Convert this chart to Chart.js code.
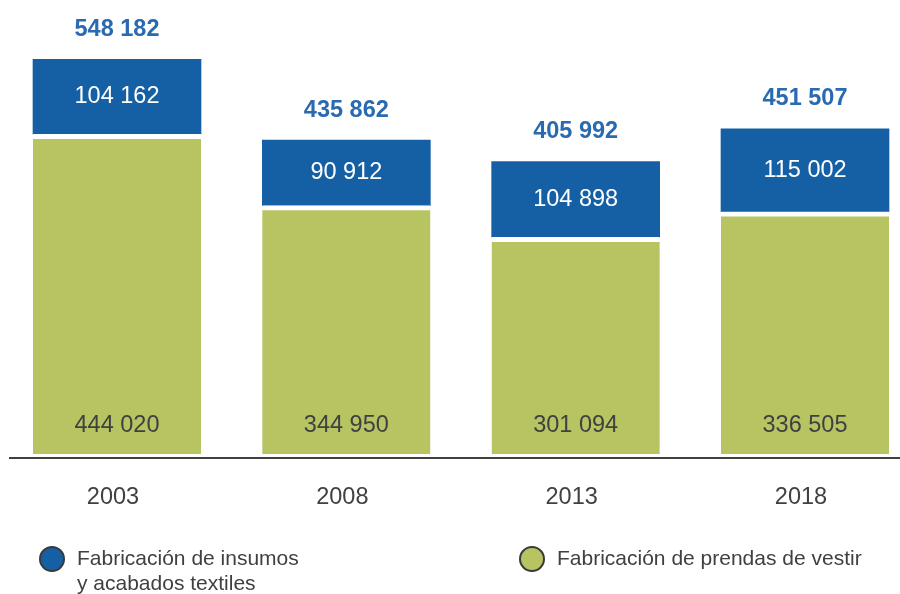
<!DOCTYPE html>
<html>
<head>
<meta charset="utf-8">
<script src="https://cdn.jsdelivr.net/npm/chart.js@4"></script>
<style>
	body { margin: 0; background: #fff; }
	#wrap { position: relative; width: 900px; height: 594px; font-family: 'Liberation Sans', Arial, sans-serif; }
	#wrap canvas { position: absolute; left: 0; top: 0; }
	.lg { position: absolute; color: #404040; font-size: 21px; line-height: 25px; }
	.dot { position: absolute; width: 22px; height: 22px; border: 2px solid #3a3a3a; border-radius: 50%; }
</style>
</head>
<body>
<div id="wrap">
	<canvas id="myChart" width="900" height="594"></canvas>
	<div class="dot" style="left:39px; top:546px; background:#1560a5;"></div>
	<div class="lg" style="left:77px; top:545px;">Fabricación de insumos<br>y acabados textiles</div>
	<div class="dot" style="left:519px; top:546px; background:#b8c462;"></div>
	<div class="lg" style="left:557px; top:545px;">Fabricación de prendas de vestir</div>
</div>
<script>
'use strict'

const years = ['2003', '2008', '2013', '2018']
const prendas = [444020, 344950, 301094, 336505]
const insumos = [104162, 90912, 104898, 115002]
const totals = [548182, 435862, 405992, 451507]

const fmt = v => String(v).replace(/\B(?=(\d{3})+(?!\d))/g, ' ')

// value labels inside the bars and totals above them
const labelPlugin = {
	id: 'labels',
	afterDatasetsDraw(chart) {
		const ctx = chart.ctx
		const green = chart.getDatasetMeta(0).data
		const blue = chart.getDatasetMeta(1).data
		ctx.save()
		ctx.textAlign = 'center'
		ctx.textBaseline = 'middle'
		ctx.font = '23.5px "Liberation Sans", Arial'
		green.forEach((b, i) => {
			ctx.fillStyle = '#404040'
			ctx.fillText(fmt(prendas[i]), b.x, b.base - 28)
		})
		blue.forEach((b, i) => {
			ctx.fillStyle = '#ffffff'
			ctx.fillText(fmt(insumos[i]), b.x, (b.y + b.base) / 2)
		})
		ctx.font = 'bold 23.5px "Liberation Sans", Arial'
		ctx.fillStyle = '#2a6ab0'
		blue.forEach((b, i) => {
			ctx.fillText(fmt(totals[i]), b.x, b.y - 30)
		})
		// baseline
		ctx.strokeStyle = '#404040'
		ctx.lineWidth = 2
		ctx.beginPath()
		ctx.moveTo(9, chart.chartArea.bottom + 4)
		ctx.lineTo(900, chart.chartArea.bottom + 4)
		ctx.stroke()
		ctx.restore()
	}
}

const chartElement = document.querySelector('#myChart')
new Chart(chartElement, {
	type: 'bar',
	data: {
		labels: years,
		datasets: [
			{
				label: 'Fabricación de prendas de vestir',
				data: prendas,
				backgroundColor: '#b8c462',
				borderColor: '#ffffff',
				borderWidth: { top: 5, left: 0, right: 0, bottom: 0 },
				borderSkipped: false,
				barThickness: 168,
				clip: false
			},
			{
				label: 'Fabricación de insumos y acabados textiles',
				data: insumos,
				backgroundColor: '#1560a5',
				borderWidth: 0,
				barThickness: 168,
				clip: false
			}
		]
	},
	options: {
		responsive: false,
		animation: false,
		layout: { padding: { left: 117, right: 95, top: 22, bottom: 0 } },
		plugins: {
			legend: { display: false },
			tooltip: { enabled: false }
		},
		scales: {
			x: {
				stacked: true,
				offset: false,
				grid: { display: false, drawTicks: false },
				border: { display: false },
				ticks: {
					color: '#404040',
					font: { family: '"Liberation Sans", Arial', size: 23.5 },
					padding: 29,
					labelOffset: -4
				},
				afterFit: s => { s.height = 140 }
			},
			y: {
				stacked: true,
				display: false,
				min: 0,
				max: 600000
			}
		}
	},
	plugins: [labelPlugin]
})
</script>
</body>
</html>
